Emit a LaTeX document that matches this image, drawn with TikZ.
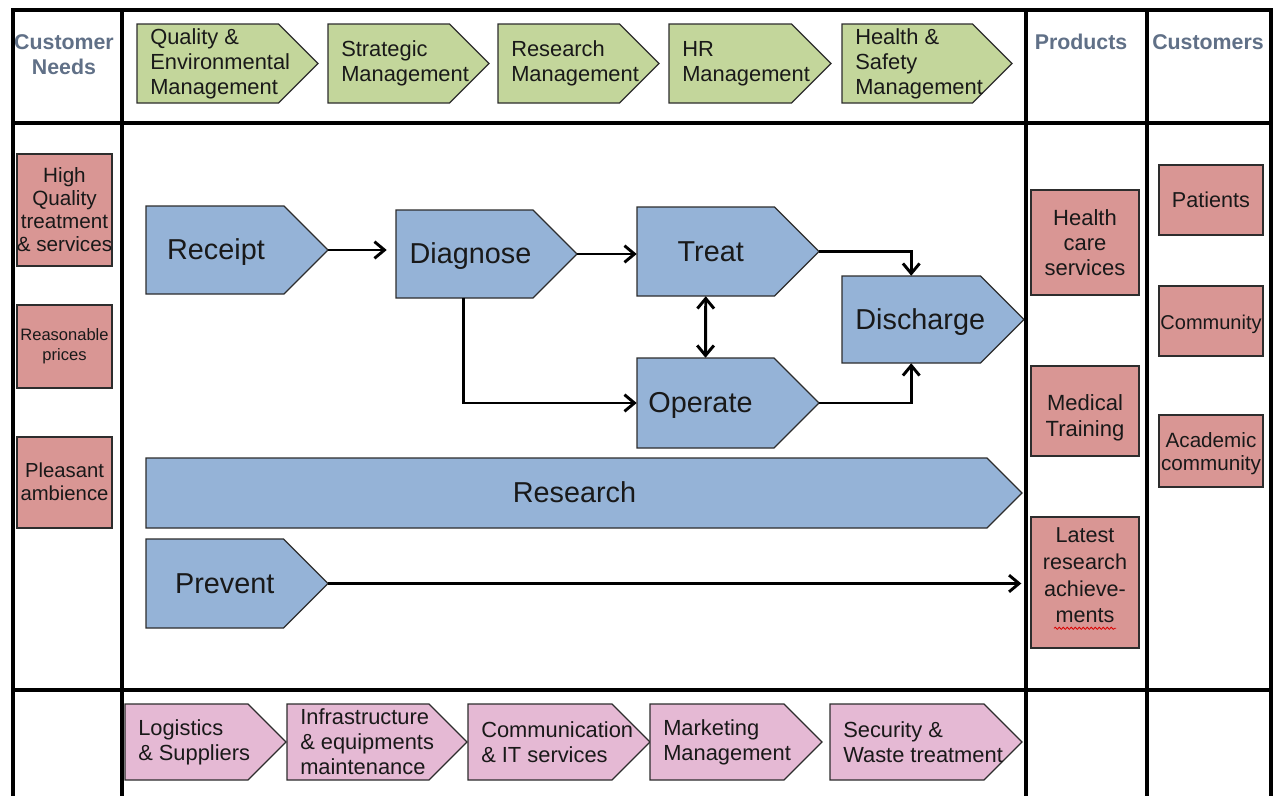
\documentclass[tikz,border=0pt]{standalone}
\usepackage{fontspec}
\setmainfont{Liberation Sans}
\usetikzlibrary{arrows.meta,calc,decorations.pathmorphing}

\definecolor{procblue}{RGB}{149,179,215}
\definecolor{mgmtgreen}{RGB}{195,214,155}
\definecolor{suppink}{RGB}{229,185,212}
\definecolor{boxred}{RGB}{217,150,148}
\definecolor{headgray}{RGB}{96,112,135}
\definecolor{edgegray}{RGB}{45,45,45}

% one drawing unit
\newdimen\pxu \pxu=0.75pt

\tikzset{
  gridline/.style={line width=3pt, black, line cap=rect},
  procshape/.style={fill=procblue, draw=edgegray, line width=1pt},
  mgmtshape/.style={fill=mgmtgreen, draw=edgegray, line width=1pt},
  supshape/.style={fill=suppink, draw=edgegray, line width=1pt},
  proctext/.style={inner sep=0pt, font=\fontsize{21.6}{25}\selectfont,
    text=black!90, text height=19.5pt, text depth=4.6pt},
  sidetext/.style={anchor=west, inner sep=0pt, align=left, text=black!90,
    font=\fontsize{16.4}{18.75}\selectfont},
  redbox/.style={draw=edgegray, fill=boxred, line width=1pt, inner sep=0pt},
  boxtext/.style={align=center, inner sep=0pt, text=black!90},
  headtext/.style={inner sep=0pt, align=center, text=headgray,
    font=\bfseries\fontsize{16}{18.75}\selectfont},
  barb/.tip={Straight Barb[length=7.5pt,width=12.5pt]},
  flow/.style={line width=2.2pt, black, -barb},
  flowboth/.style={line width=2.2pt, black, barb-barb},
}

% pointed step outline from left x, top y, tip x, bottom y (right-angled point)
\newcommand\chevshape[5]{%
  \pgfmathsetmacro\cvmid{(#3+#5)/2}%
  \pgfmathsetmacro\cvbody{#4-(#5-#3)/2}%
  \filldraw[#1] (#2,#3) -- (\cvbody,#3) -- (#4,\cvmid) -- (\cvbody,#5) -- (#2,#5) -- cycle;
}

% process step: the node covers the rectangular body, the tip is a coordinate;
% the last argument nudges the label sideways (twice the offset, in units)
\newcommand\procstep[7]{%
  \chevshape{procshape}{#2}{#3}{#4}{#5}%
  \coordinate (#1-tip) at (#4,\cvmid);
  \pgfmathsetmacro\cvw{\cvbody-#2}%
  \pgfmathsetmacro\cvh{#5-#3}%
  \node[proctext, minimum width={\cvw*0.75pt}, minimum height={\cvh*0.75pt}]
    (#1) at ({(#2+\cvbody)/2},\cvmid) {\hspace*{#7\pxu}#6};
}

% supporting / management step with left-aligned text
\newcommand\sidestep[7]{%
  \chevshape{#2}{#3}{#4}{#5}{#6}%
  \node[sidetext] (#1) at (#3+13,\cvmid) {#7};
}

% coloured box from left x, top y, right x, bottom y; optional downward text offset
\newcommand\needbox[9][0]{%
  \node[redbox, minimum width={(#5-#3)*0.75pt}, minimum height={(#6-#4)*0.75pt}]
    (#2) at ({(#3+#5)/2},{(#4+#6)/2}) {};
  \node[boxtext, font=\fontsize{#7}{#8}\selectfont, yshift={-(#1)*0.75pt}]
    (#2-text) at (#2.center) {#9};
}

\begin{document}
\begin{tikzpicture}[x=0.75pt, y=-0.75pt]
\useasboundingbox (0,0) rectangle (1279,796);
\fill[white] (0,0) rectangle (1279,796);

% management processes
\sidestep{qem}{mgmtshape}{137}{24}{318}{103}{Quality \&\\Environmental\\Management}
\sidestep{stm}{mgmtshape}{328}{24}{489}{103}{Strategic\\Management}
\sidestep{rsm}{mgmtshape}{498}{24}{659}{103}{Research\\Management}
\sidestep{hrm}{mgmtshape}{669}{24}{831}{103}{HR\\Management}
\sidestep{hsm}{mgmtshape}{842}{24}{1012}{103}{Health \&\\Safety\\Management}

% supporting processes
\sidestep{log}{supshape}{125}{704}{286}{780}{Logistics\\\& Suppliers}
\sidestep{inf}{supshape}{287}{704}{467}{780}{Infrastructure\\\& equipments\\maintenance}
\sidestep{com}{supshape}{468}{704}{650}{780}{Communication\\\& IT services}
\sidestep{mkt}{supshape}{650}{704}{822}{780}{Marketing\\Management}
\sidestep{sec}{supshape}{830}{704}{1022}{780}{Security \&\\Waste treatment}

% core processes
\procstep{rec}{146}{206}{328}{294}{Receipt}{2}
\procstep{diag}{396}{210}{577}{298}{Diagnose}{12}
\procstep{treat}{637}{207}{819}{296}{Treat}{10}
\procstep{oper}{637}{358}{819}{448}{Operate}{-10}
\procstep{dis}{842}{276}{1024}{363}{Discharge}{18}
\procstep{res}{146}{458}{1022}{528}{Research}{16}
\procstep{prev}{146}{539}{328}{628}{Prevent}{20}

% customer needs
\needbox{hq}{17}{154}{112}{266}{15.5}{17.25}{High\\Quality\\treatment\\\& services}
\needbox{rp}{17}{305}{112}{388}{12.4}{15}{Reasonable\\prices}
\needbox[-1]{pa}{17}{437}{112}{528}{15.2}{17.25}{Pleasant\\ambience}

% products
\needbox{hc}{1031}{190}{1139}{295}{16.5}{19}{Health\\care\\services}
\needbox[7]{mt}{1031}{366}{1139}{456}{16.5}{19.5}{Medical\\Training}
\needbox[-7]{lr}{1031}{517}{1139}{648}{16.2}{20}{Latest\\research\\achieve-\\ments}

% customers
\needbox{pt}{1159}{165}{1263}{235}{16.2}{19}{Patients}
\needbox[3]{cm}{1159}{286}{1263}{356}{15}{18}{Community}
\needbox[3]{ac}{1159}{415}{1263}{487}{15.5}{17.25}{Academic\\community}

% spelling mark under the last word
\draw[red!85!black, line width=0.6pt, decorate,
  decoration={snake, amplitude=0.8pt, segment length=3pt}]
  ($(lr-text.south)+(-31,5)$) -- ($(lr-text.south)+(31,5)$);

% flow between core processes
\draw[flow, shorten >=6.75pt] (rec-tip) -- (rec-tip -| diag.west);
\draw[flow] (diag-tip) -- (diag-tip -| treat.west);
\draw[flow] ($(diag.south west)!0.49!(diag.south east)$) |- (oper.west);
\draw[flowboth] (treat.south) -- (oper.north);
\draw[flow] (treat-tip) -| (dis.north);
\draw[flow] (oper-tip) -| (dis.south);
\draw[flow, shorten >=6.75pt] (prev-tip) -- (prev-tip -| lr.west);

% column headings
\node[headtext] (hneeds) at (64,54.5) {Customer\\Needs};
\node[headtext] (hprod) at (1081,42) {Products};
\node[headtext] (hcust) at (1208,42) {Customers};

% table frame
\draw[gridline] (13,796) -- (13,10) -- (1271,10) -- (1271,796);
\draw[gridline] (13,123) -- (1271,123);
\draw[gridline] (13,690) -- (1271,690);
\draw[gridline] (122,10) -- (122,796);
\draw[gridline] (1026,10) -- (1026,796);
\draw[gridline] (1147,10) -- (1147,796);
\end{tikzpicture}
\end{document}
